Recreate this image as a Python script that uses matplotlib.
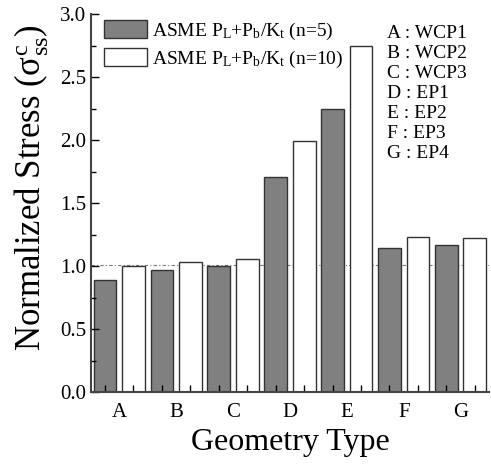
import matplotlib
matplotlib.use("Agg")
import matplotlib.pyplot as plt
import numpy as np

plt.rcParams['font.family'] = ['Liberation Serif', 'DejaVu Serif']
plt.rcParams['mathtext.fontset'] = 'custom'
plt.rcParams['mathtext.rm'] = 'Liberation Serif'
plt.rcParams['mathtext.it'] = 'Liberation Serif:italic'

geometry = ['A', 'B', 'C', 'D', 'E', 'F', 'G']
names = ['WCP1', 'WCP2', 'WCP3', 'EP1', 'EP2', 'EP3', 'EP4']
n5 = [0.89, 0.97, 1.00, 1.71, 2.25, 1.14, 1.17]
n10 = [1.00, 1.03, 1.06, 1.99, 2.75, 1.23, 1.22]
ref_line = 1.01

fig = plt.figure(figsize=(4.91, 4.69), dpi=100)
ax = fig.add_axes([0.185, 0.164, 0.811, 0.806])

x = np.arange(len(geometry)) * 2
ax.bar(x, n5, width=0.8, color='#808080', edgecolor='#333333', linewidth=1.0,
       label=r'ASME P$_\mathrm{L}$+P$_\mathrm{b}$/K$_\mathrm{t}$ (n=5)')
ax.bar(x + 1, n10, width=0.8, color='white', edgecolor='#333333', linewidth=1.0,
       label=r'ASME P$_\mathrm{L}$+P$_\mathrm{b}$/K$_\mathrm{t}$ (n=10)')
ax.axhline(ref_line, color='#777777', linestyle=(0, (3, 2, 1, 2)), linewidth=0.8, zorder=0)

ax.set_xlim(-0.5, 2 * len(geometry) - 0.5)
ax.set_ylim(0, 3.0)
ax.set_yticks(np.arange(0, 3.01, 0.5))
ax.set_yticks(np.arange(0, 3.01, 0.25), minor=True)
ax.set_xticks(x + 0.5)
ax.set_xticklabels(geometry)
ax.set_xticks(np.concatenate([x, x + 1]), minor=True)
ax.tick_params(axis='x', which='major', length=0, labelsize=15, pad=8)
ax.tick_params(axis='x', which='minor', direction='in', length=5, width=1)
ax.tick_params(axis='y', which='major', direction='in', length=6, width=1, labelsize=15)
ax.tick_params(axis='y', which='minor', direction='in', length=3.5, width=1)
ax.set_yticklabels([f'{v:.1f}' for v in np.arange(0, 3.01, 0.5)])

for s in ['top', 'right']:
    ax.spines[s].set_visible(False)
for s in ['left', 'bottom']:
    ax.spines[s].set_linewidth(1.5)
    ax.spines[s].set_color('#444444')

ax.set_xlabel('Geometry Type', fontsize=23, labelpad=4)
ax.set_ylabel(r'Normalized Stress ($\mathrm{\sigma}^\mathrm{c}_\mathrm{ss}$)', fontsize=25)
ax.yaxis.set_label_coords(-0.1, 0.54)

ax.legend(loc='upper left', bbox_to_anchor=(0.0, 1.02), frameon=False, fontsize=14,
          handlelength=2.2, handleheight=1.0, handletextpad=0.25, labelspacing=0.35,
          borderaxespad=0.3)

key = '\n'.join(f'{g} : {n}' for g, n in zip(geometry, names))
ax.text(0.745, 0.97, key, transform=ax.transAxes, fontsize=14, va='top', ha='left',
        linespacing=1.22)

fig.savefig('out.png', dpi=100)
